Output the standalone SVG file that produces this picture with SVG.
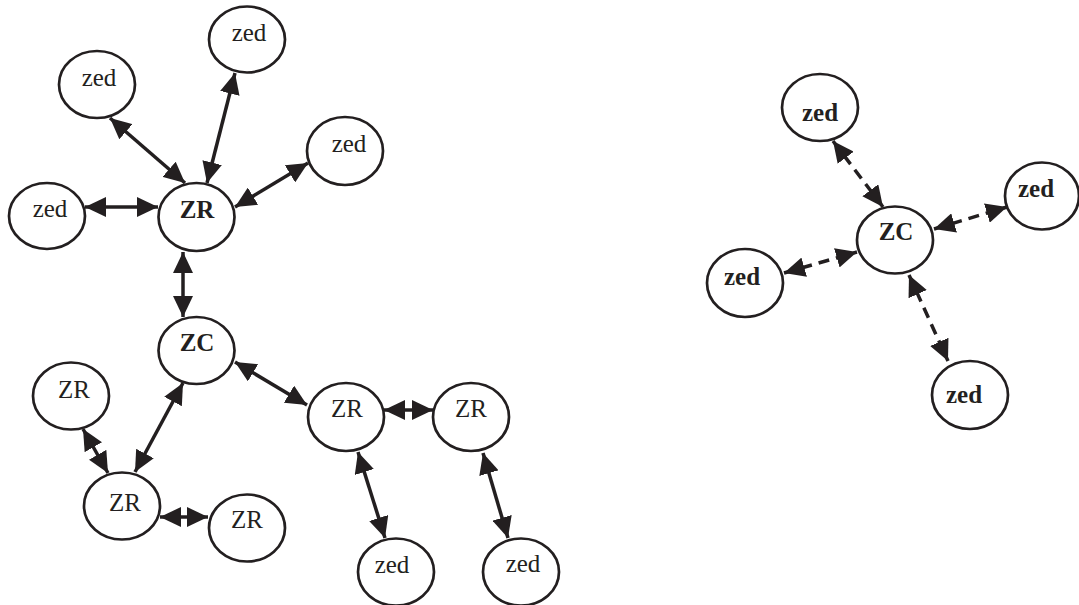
<svg xmlns="http://www.w3.org/2000/svg" width="1079" height="605" viewBox="0 0 1079 605">
<style>
.n ellipse{fill:#fff;stroke:#231f20;stroke-width:2.7}
.n text{font-family:"Liberation Serif","Times New Roman","DejaVu Serif",serif;font-size:25px;fill:#231f20;text-anchor:middle}
.n text.b{font-weight:bold}
.c line{stroke:#231f20;stroke-width:3.5;marker-start:url(#ah);marker-end:url(#ah)}
.c line.d{stroke-dasharray:11 7}
</style>
<defs>
<marker id="ah" markerUnits="userSpaceOnUse" markerWidth="21" markerHeight="20" viewBox="0 0 21 20" refX="21" refY="10" orient="auto-start-reverse">
<path d="M0,0 L21,10 L0,20 z" fill="#231f20"/>
</marker>
</defs>
<rect width="1079" height="605" fill="#fff"/>
<g class="c" id="connectors">
<line x1="110" y1="118" x2="185" y2="183"/>
<line x1="235" y1="73" x2="207" y2="183"/>
<line x1="308" y1="163" x2="235" y2="207"/>
<line x1="85" y1="207" x2="158" y2="207"/>
<line x1="183" y1="252" x2="183" y2="317"/>
<line x1="235" y1="362" x2="307" y2="405"/>
<line x1="183" y1="383" x2="135" y2="472"/>
<line x1="83" y1="429" x2="108" y2="473"/>
<line x1="160" y1="517" x2="208" y2="517"/>
<line x1="384" y1="410" x2="433" y2="410"/>
<line x1="358" y1="452" x2="385" y2="538"/>
<line x1="483" y1="453" x2="508" y2="538"/>
<line class="d" x1="833" y1="141" x2="883" y2="207"/>
<line class="d" x1="784" y1="273" x2="857" y2="252"/>
<line class="d" x1="934" y1="229" x2="1007" y2="207"/>
<line class="d" x1="909" y1="275" x2="948" y2="361"/>
</g>
<g class="n" id="zed1"><ellipse cx="97" cy="84.5" rx="38" ry="33.5"/><text x="99" y="86">zed</text></g>
<g class="n" id="zed2"><ellipse cx="247" cy="39.5" rx="38" ry="33"/><text x="249" y="41">zed</text></g>
<g class="n" id="zed3"><ellipse cx="345" cy="151" rx="38" ry="34"/><text x="349" y="152">zed</text></g>
<g class="n" id="zed4"><ellipse cx="47" cy="216" rx="38" ry="33"/><text x="50" y="217">zed</text></g>
<g class="n" id="zr1"><ellipse cx="196.5" cy="217" rx="38" ry="34"/><text class="b" x="197" y="218">ZR</text></g>
<g class="n" id="zc1"><ellipse cx="196.5" cy="350.5" rx="38" ry="33.5"/><text class="b" x="197" y="351">ZC</text></g>
<g class="n" id="zr2"><ellipse cx="71" cy="396" rx="38" ry="33.5"/><text x="74" y="398">ZR</text></g>
<g class="n" id="zr3"><ellipse cx="122" cy="506" rx="38" ry="33.5"/><text x="125" y="511">ZR</text></g>
<g class="n" id="zr4"><ellipse cx="247" cy="528" rx="38" ry="33.5"/><text x="247" y="528">ZR</text></g>
<g class="n" id="zr5"><ellipse cx="346" cy="417" rx="38" ry="34"/><text x="347" y="417">ZR</text></g>
<g class="n" id="zr6"><ellipse cx="471" cy="417" rx="38" ry="34"/><text x="471" y="417">ZR</text></g>
<g class="n" id="zed5"><ellipse cx="396" cy="572" rx="38" ry="33.5"/><text x="392" y="573">zed</text></g>
<g class="n" id="zed6"><ellipse cx="521" cy="572" rx="38" ry="33.5"/><text x="523" y="572">zed</text></g>
<g class="n" id="zed7"><ellipse cx="820" cy="107.5" rx="38" ry="33.5"/><text class="b" x="820" y="121">zed</text></g>
<g class="n" id="zc2"><ellipse cx="895" cy="240" rx="38" ry="33.5"/><text class="b" x="896" y="240">ZC</text></g>
<g class="n" id="zed8"><ellipse cx="745" cy="283" rx="38" ry="34"/><text class="b" x="742" y="285">zed</text></g>
<g class="n" id="zed9"><ellipse cx="1042" cy="196" rx="37" ry="33.5"/><text class="b" x="1036" y="197">zed</text></g>
<g class="n" id="zed10"><ellipse cx="970" cy="395" rx="38" ry="34"/><text class="b" x="964" y="403">zed</text></g>
</svg>
